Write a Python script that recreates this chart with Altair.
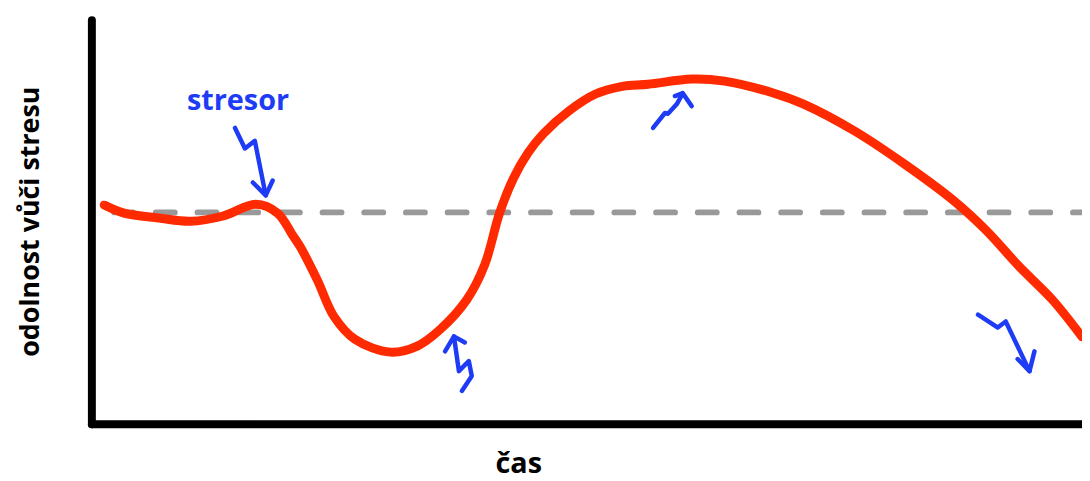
import altair as alt
import pandas as pd

# Red resilience curve (time 0-100, resilience 0-100)
curve_t = [1.3, 3.3, 6.8, 10.0, 13.3, 16.6, 18.8, 20.3, 21.1, 22.8, 24.5, 26.6, 30.2, 32.9,
           35.2, 37.9, 39.7, 41.2, 42.6, 44.1, 45.6, 48.2, 50.9, 53.6, 56.2, 60.6, 63.9, 68.9,
           71.9, 77.0, 82.0, 87.0, 90.3, 93.7, 97.0, 100.0]
curve_v = [54.1, 52.1, 50.9, 50.1, 51.4, 54.3, 52.1, 46.7, 43.7, 35.6, 26.5, 20.9, 17.7, 19.2,
           23.3, 30.7, 39.3, 52.1, 60.7, 67.1, 71.7, 77.4, 81.6, 83.5, 84.0, 85.3, 84.8, 81.8,
           79.1, 72.5, 64.4, 55.3, 47.9, 38.8, 30.7, 21.5]

# Baseline (dashed)
base_t = [2.3, 100.0]
base_v = [52.3, 52.3]

# Blue squiggle arrows: stroke id, x, y (in drawing order)
arrow_id = (["a1"] * 4 + ["h1"] * 3 +
            ["a2"] * 5 + ["h2"] * 3 +
            ["a3"] * 5 + ["h3"] * 3 +
            ["a4"] * 5 + ["h4"] * 3)
arrow_t = [14.5, 15.5, 16.5, 17.6, 16.3, 17.6, 18.3,
           36.6, 37.1, 38.1, 38.4, 37.4, 35.7, 36.6, 37.7,
           56.7, 57.9, 58.2, 59.1, 59.7, 58.9, 59.7, 60.6,
           89.5, 90.7, 91.5, 92.3, 94.7, 93.5, 94.7, 95.2]
arrow_v = [73.2, 68.1, 70.0, 56.5, 59.7, 56.5, 60.2,
           21.6, 13.0, 15.5, 11.8, 8.1, 17.9, 21.6, 20.1,
           73.2, 76.9, 76.7, 79.1, 81.8, 81.1, 81.8, 78.6,
           27.0, 25.1, 23.8, 25.3, 13.0, 16.0, 13.0, 17.9]

label_text = ["stresor"]
label_t = [14.8]
label_v = [79.9]

curve_df = pd.DataFrame({"t": curve_t, "v": curve_v, "o": list(range(len(curve_t)))})
base_df = pd.DataFrame({"t": base_t, "v": base_v})
arrow_df = pd.DataFrame({"id": arrow_id, "t": arrow_t, "v": arrow_v,
                         "o": list(range(len(arrow_t)))})
label_df = pd.DataFrame({"text": label_text, "t": label_t, "v": label_v})

xs = alt.Scale(domain=[0, 100], nice=False, zero=False)
ys = alt.Scale(domain=[0, 100], nice=False, zero=False)

x_axis = alt.Axis(title="čas", labels=False, ticks=False, grid=False,
                  titleX=430, titleY=40, titleBaseline="middle", titleAlign="center")
y_axis = alt.Axis(title="odolnost vůči stresu", labels=False, ticks=False, grid=False,
                  titleX=-61, titleY=203, titleAngle=-90, titleAlign="center",
                  titleBaseline="middle", titleFontSize=27)

base = alt.Chart(base_df).mark_line(
    color="#999999", strokeWidth=6, strokeDash=[19, 23], strokeCap="round"
).encode(
    x=alt.X("t:Q", scale=xs, axis=x_axis),
    y=alt.Y("v:Q", scale=ys, axis=y_axis),
)

curve = alt.Chart(curve_df).mark_line(
    color="#FF2A00", strokeWidth=9, strokeCap="round", interpolate="catmull-rom", clip=True
).encode(
    x=alt.X("t:Q", scale=xs),
    y=alt.Y("v:Q", scale=ys),
    order="o:Q",
)

arrows = alt.Chart(arrow_df).mark_line(
    color="#1E3CF5", strokeWidth=4.5, strokeCap="round", strokeJoin="round"
).encode(
    x=alt.X("t:Q", scale=xs),
    y=alt.Y("v:Q", scale=ys),
    detail="id:N",
    order="o:Q",
)

label = alt.Chart(label_df).mark_text(
    color="#1E3CF5", font="Open Sans", fontWeight="bold", fontSize=29, align="center",
    baseline="middle"
).encode(
    x=alt.X("t:Q", scale=xs),
    y=alt.Y("v:Q", scale=ys),
    text="text:N",
)

chart = alt.layer(base, curve, arrows, label).properties(
    width=998, height=407,
    autosize=alt.AutoSizeParams(type="none"),
    padding={"left": 84, "top": 10, "right": 0, "bottom": 56},
).configure_view(stroke=None).configure_axis(
    domainColor="black", domainWidth=8, domainCap="round",
    titleFont="Open Sans", titleFontSize=29, titleFontWeight="bold", titleColor="black",
)

chart.save("out.html", embed_options={"renderer": "svg", "actions": False})
